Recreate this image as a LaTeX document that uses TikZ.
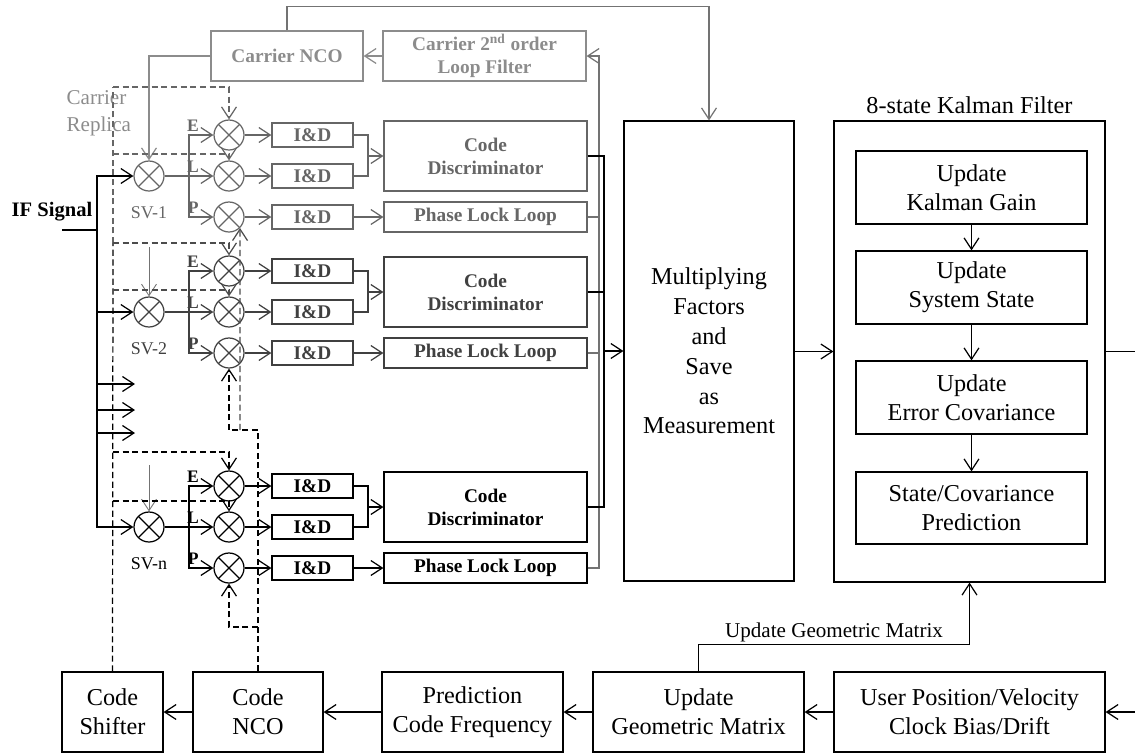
\documentclass[tikz,border=0pt]{standalone}
\usepackage{fontspec}
\setmainfont{Liberation Serif}
\usetikzlibrary{arrows.meta, positioning}

\begin{document}
\begin{tikzpicture}[x=0.02cm, y=-0.02cm, line width=0.7pt,
    >={Straight Barb[length=6.5pt,width=8.5pt]},
    box/.style={draw, align=center, inner sep=0pt, font=\fontsize{13.8}{16.5}\selectfont},
    bbox/.style={draw, align=center, inner sep=0pt, minimum width=4.06cm, font=\bfseries\fontsize{11}{13}\selectfont},
    idbox/.style={draw, inner sep=0pt, minimum width=1.62cm, minimum height=0.48cm, font=\bfseries\fontsize{11}{13}\selectfont},
    mult/.style={circle, draw, inner sep=0pt, minimum size=0.6cm,
      path picture={\draw (path picture bounding box.north west) -- (path picture bounding box.south east)
        (path picture bounding box.south west) -- (path picture bounding box.north east);}},
    lab/.style={inner sep=0pt, font=\bfseries\fontsize{10}{12}\selectfont},
    svlab/.style={inner sep=0pt, font=\fontsize{10.2}{12}\selectfont},
    code/.style={dash pattern=on 3.5pt off 2pt},
    carrier/.style={color=black!45}]
\useasboundingbox (0,0) rectangle (1135,754);

% bottom row
\node[box, minimum width=2.02cm, minimum height=1.6cm] (cs) at (112.5,712) {Code\\Shifter};
\node[box, minimum width=2.6cm, minimum height=1.6cm] (nco) at (258,712) {Code\\NCO};
\node[box, minimum width=3.62cm, minimum height=1.6cm] (pcf) at (472.5,712) {Prediction\\Code Frequency};
\node[box, minimum width=4.22cm, minimum height=1.6cm] (ugm) at (698.5,712) {Update\\Geometric Matrix};
\node[box, minimum width=5.42cm, minimum height=1.6cm] (upv) at (969.5,712) {User Position/Velocity\\Clock Bias/Drift};

% measurement and kalman filter
\node[box, minimum width=3.4cm, minimum height=9.2cm, font=\fontsize{13.8}{17}\selectfont] (mf) at (709,351)
  {Multiplying\\Factors\\and\\Save\\as\\Measurement};
\node[draw, minimum width=5.42cm, minimum height=9.22cm] (kf) at (969.5,351.5) {};
\node[inner sep=0pt, font=\fontsize{13.8}{16.5}\selectfont, above=3.4pt of kf] (kft) {8-state Kalman Filter};
\node[box, minimum width=4.62cm, minimum height=1.46cm] (kg) at (971.5,187.5) {Update\\Kalman Gain};
\node[box, minimum width=4.62cm, minimum height=1.46cm] (ss) at (971.5,287.5) {Update\\System State};
\node[box, minimum width=4.62cm, minimum height=1.46cm] (ec) at (971.5,397.5) {Update\\Error Covariance};
\node[box, minimum width=4.62cm, minimum height=1.44cm] (scp) at (971.5,508) {State/Covariance\\Prediction};

% carrier loop
\node[box, carrier, font=\bfseries\fontsize{11}{13}\selectfont, minimum width=3.04cm, minimum height=1cm] (cnco) at (287,56) {Carrier NCO};
\node[box, carrier, font=\bfseries\fontsize{11}{13}\selectfont, minimum width=4.06cm, minimum height=1cm] (lf) at (484.5,56)
  {Carrier 2\textsuperscript{nd} order\\Loop Filter};
\node[carrier, align=left, anchor=west, inner sep=0pt, font=\fontsize{12}{15.3}\selectfont] (crlab) at (66,113) {Carrier\\Replica};

% the three channels
\foreach \g/\y/\c/\sv in {1/176/black!60/SV-1, 2/312/black!75/SV-2, n/527/black/SV-n}{
  \begin{scope}[color=\c]
    \node[mult] (mS\g) at (149,\y) {};
    \node[svlab, below=8pt of mS\g] (sv\g) {\sv};
    \node[mult] (mE\g) at (229,\y-41) {};
    \node[mult] (mL\g) at (229,\y) {};
    \node[mult] (mP\g) at (229,\y+41) {};
    \node[lab, above left=1.5pt and 8pt of mE\g.west] (lE\g) {E};
    \node[lab, above left=1.5pt and 8pt of mL\g.west] (lL\g) {L};
    \node[lab, above left=1.5pt and 8pt of mP\g.west] (lP\g) {P};
    \coordinate (br\g) at (189,\y);
    \draw (mS\g) -- (br\g);
    \draw[->] (br\g) |- (mE\g);
    \draw[->] (br\g) -- (mL\g);
    \draw[->] (br\g) |- (mP\g);
    \node[idbox] (idE\g) at (312.5,\y-41) {I\&D};
    \node[idbox] (idL\g) at (312.5,\y) {I\&D};
    \node[idbox] (idP\g) at (312.5,\y+41) {I\&D};
    \draw[->] (mE\g) -- (idE\g);
    \draw[->] (mL\g) -- (idL\g);
    \draw[->] (mP\g) -- (idP\g);
    \node[bbox, minimum height=1.4cm] (cd\g) at (485.5,\y-20) {Code\\Discriminator};
    \node[bbox, minimum height=0.6cm] (pll\g) at (485.5,\y+41) {Phase Lock Loop};
    \coordinate (jn\g) at (368,\y-20);
    \draw (idE\g) -| (jn\g) |- (idL\g);
    \draw[->] (jn\g) -- (cd\g);
    \draw[->] (idP\g) -- (pll\g);
  \end{scope}
}

% IF signal
\node[inner sep=0pt, font=\bfseries\fontsize{11.7}{14}\selectfont] (iflab) at (52,212) {IF Signal};
\coordinate (ifs) at (62,230);
\coordinate (bus) at (97,230);
\draw (ifs) -- (bus);
\foreach \g in {1,2,n} \draw[->] (bus) |- (mS\g.west);
\foreach \y [count=\i] in {384,410,433} {
  \coordinate (more\i) at (135,\y);
  \draw[->] (bus |- more\i) -- (more\i);
}

% carrier replica
\draw[->, carrier] (cnco.west) -| (mS1.north);
\coordinate (cr2) at (149,247);
\coordinate (crn) at (149,465);
\draw[->, black!55, line width=0.5pt] (cr2) -- (mS2.north);
\draw[->, black!55, line width=0.5pt] (crn) -- (mSn.north);
\draw[->, carrier] (lf) -- (cnco);
\draw[->, black!55] (cnco.north) -- ++(0,-24) -| (mf.north);

% code replica (early / late)
\coordinate (dE1) at (113,87);
\coordinate (dL1) at (113,154);
\coordinate (dE2) at (113,243);
\coordinate (dL2) at (113,290);
\coordinate (dEn) at (113,452);
\coordinate (dLn) at (113,501);
\draw[code] (cs.north) -- (dE2);
\draw[code, black!60] (dE2) -- (dE1);
\draw[code, ->, black!60] (dE1) -| (mE1.north);
\draw[code, ->, black!60] (dL1) -| (mL1.north);
\draw[code, ->, black!70] (dE2) -| (mE2.north);
\draw[code, ->, black!70] (dL2) -| (mL2.north);
\draw[code, ->] (dEn) -| (mEn.north);
\draw[code, ->] (dLn) -| (mLn.north);

% code replica (prompt)
\coordinate (dP) at (258,430);
\coordinate (dP1) at (240,430);
\coordinate (dPn) at (258,627);
\draw[code, ->] (nco.north) -- (dP) -| (mP2.south);
\draw[code, ->, black!70] (dP1) -- (mP1.-45);
\draw[code, ->] (dPn) -| (mPn.south);

% discriminator outputs
\coordinate (pbus) at (599,56);
\coordinate (cbus) at (604,351);
\draw[->, black!55] (plln.east) -| (pbus) -- (lf.east);
\draw[black!55] (pll1.east) -- (pll1.east -| pbus);
\draw[black!55] (pll2.east) -- (pll2.east -| pbus);
\draw (cd1.east) -| (cbus);
\draw (cdn.east) -| (cbus);
\draw (cd2.east) -- (cd2.east -| cbus);
\draw[->] (cbus) -- (mf.west);

% filter
\draw[->] (mf.east |- kf.west) -- (kf.west);
\draw[->] (kg) -- (ss);
\draw[->] (ss) -- (ec);
\draw[->] (ec) -- (scp);
\coordinate (kout) at (1135,351.5);
\draw (kf.east) -- (kout);
\coordinate (uin) at (1135,712);
\draw[->] (uin) -- (upv.east);
\draw[->] (upv) -- (ugm);
\draw[->] (ugm) -- (pcf);
\draw[->] (pcf) -- (nco);
\draw[->] (nco) -- (cs);
\draw[->] (ugm.north) -- ++(0,-27) -| (kf.south)
  node[pos=0.25, above, inner sep=1pt, font=\fontsize{12}{14}\selectfont] {Update Geometric Matrix};
\end{tikzpicture}
\end{document}
